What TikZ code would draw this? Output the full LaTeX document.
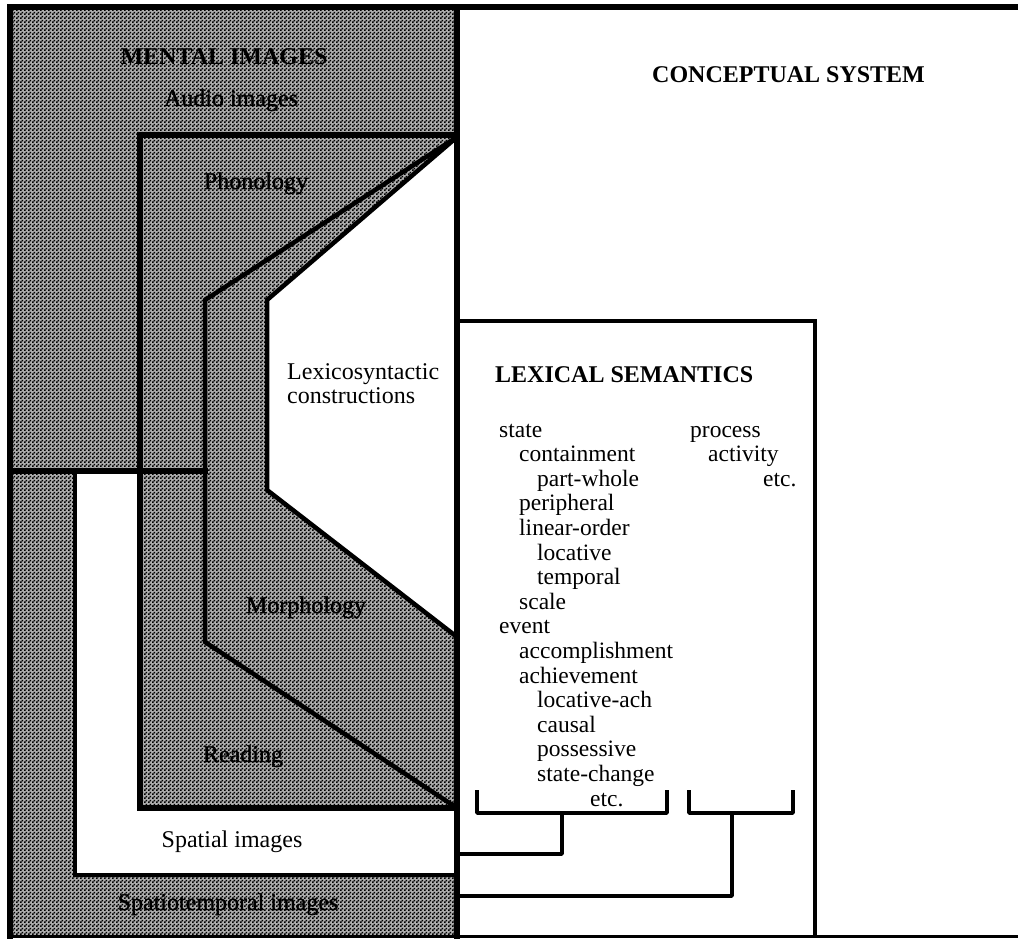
\documentclass[tikz,border=0pt]{standalone}
\usepackage{fontspec}
\setmainfont{Liberation Serif}
% slightly emboldened face for labels printed on the stipple
\newfontfamily\inkedserif[FakeBold=1.2]{Liberation Serif}
\usetikzlibrary{patterns}
% halftone stipple used for the mental-image regions
\pgfdeclarepatternformonly{halftone}{\pgfpointorigin}{\pgfqpoint{4pt}{4pt}}{\pgfqpoint{4pt}{4pt}}{%
  \pgfpathrectangle{\pgfpointorigin}{\pgfqpoint{2pt}{2pt}}%
  \pgfpathrectangle{\pgfqpoint{2pt}{2pt}}{\pgfqpoint{2pt}{2pt}}%
  \pgfusepath{fill}}
\colorlet{halfbase}{black!32}
\begin{document}
\begin{tikzpicture}[x=1pt,y=-1pt,
  stipple/.style={pattern=halftone,pattern color=black},
  frame/.style={line width=5.5pt,line cap=rect},
  edge/.style={line width=4.5pt,line join=miter},
  thin/.style={line width=3.5pt},
  brk/.style={line width=3.5pt,line join=round},
  lbl/.style={font=\fontsize{24}{28}\selectfont,inner sep=0pt,anchor=base},
  glbl/.style={font=\inkedserif\fontsize{24}{28}\selectfont,inner sep=0pt,anchor=base},
  ttl/.style={font=\fontsize{24}{28}\selectfont\bfseries,inner sep=0pt,anchor=base},
  item/.style={font=\fontsize{23.5}{28}\selectfont,inner sep=0pt,anchor=base west}]
\useasboundingbox (0,0) rectangle (1018,939);
\fill[white] (0,0) rectangle (1018,939);

% mental images region
\fill[halfbase] (10,7) rectangle (457,937);
\fill[stipple] (10,7) rectangle (457,937);

% spatial images box
\fill[white] (75,471) rectangle (457,875);
\draw[thin] (75,471) rectangle (457,875);

% language box: phonology / morphology / reading
\fill[halfbase] (140,135) rectangle (457,808);
\fill[stipple] (140,135) rectangle (457,808);
\draw[frame] (140,135) rectangle (457,808);

% lexicosyntactic constructions
\coordinate (lt) at (457,137);
\fill[white] (lt) -- (267,300) -- (267,490) -- (457,637) -- cycle;
\draw[edge] (lt) -- (267,300) -- (267,490) -- (457,637);
\draw[edge] (lt) -- (205,300) -- (205,642) -- (457,808);

% divider between audio and spatial parts
\draw[frame] (10,471) -- (205,471);

% outer frame
\draw[frame] (10,937) -- (10,7) -- (1018,7);
\draw[line width=2.5pt] (10,936.5) -- (1018,936.5);
\draw[frame] (457,7) -- (457,937);

% lexical semantics box
\draw[edge] (457,321) -- (815,321) -- (815,937);

% titles and labels
\node[ttl] (mental) at (224,65) {MENTAL IMAGES};
\node[glbl] (audio) at (231,106) {Audio images};
\node[glbl] (phon) at (256,189) {Phonology};
\node[glbl] (morph) at (306,613) {Morphology};
\node[glbl] (read) at (243,762) {Reading};
\node[lbl] (spatial) at (232,847) {Spatial images};
\node[glbl] (spt) at (228,910) {Spatiotemporal images};
\node[ttl,anchor=base west] (concept) at (652,83) {CONCEPTUAL SYSTEM};
\node[lbl,anchor=base west] (lexsyn1) at (287,379) {Lexicosyntactic};
\node[lbl,anchor=base west] (lexsyn2) at (287,403) {constructions};
\node[ttl,anchor=base west] (lexsem) at (495,382) {LEXICAL SEMANTICS};

% state / event hierarchy
\node[item] (s1) at (499,437.0) {state};
\node[item] (s2) at (519,461.6) {containment};
\node[item] (s3) at (537,486.2) {part-whole};
\node[item] (s4) at (519,510.8) {peripheral};
\node[item] (s5) at (519,535.4) {linear-order};
\node[item] (s6) at (537,560.0) {locative};
\node[item] (s7) at (537,584.6) {temporal};
\node[item] (s8) at (519,609.2) {scale};
\node[item] (s9) at (499,633.8) {event};
\node[item] (s10) at (519,658.4) {accomplishment};
\node[item] (s11) at (519,683.0) {achievement};
\node[item] (s12) at (537,707.6) {locative-ach};
\node[item] (s13) at (537,732.2) {causal};
\node[item] (s14) at (537,756.8) {possessive};
\node[item] (s15) at (537,781.4) {state-change};
\node[item] (s16) at (590,806.0) {etc.};

% process hierarchy
\node[item] (p1) at (690,437.0) {process};
\node[item] (p2) at (708,461.6) {activity};
\node[item] (p3) at (763,486.2) {etc.};

% brackets grouping the two hierarchies
\coordinate (la) at (477,790);
\coordinate (lb) at (667,790);
\coordinate (lm) at (562,813);
\coordinate (ra) at (689,790);
\coordinate (rb) at (793,790);
\coordinate (rm) at (732,813);
\coordinate (lend) at (457,854);
\coordinate (rend) at (457,896);
\draw[brk] (la) |- (lm) -| (lb);
\draw[brk] (ra) |- (rm) -| (rb);
\draw[brk] (lm) |- (lend);
\draw[brk] (rm) |- (rend);
\end{tikzpicture}
\end{document}
